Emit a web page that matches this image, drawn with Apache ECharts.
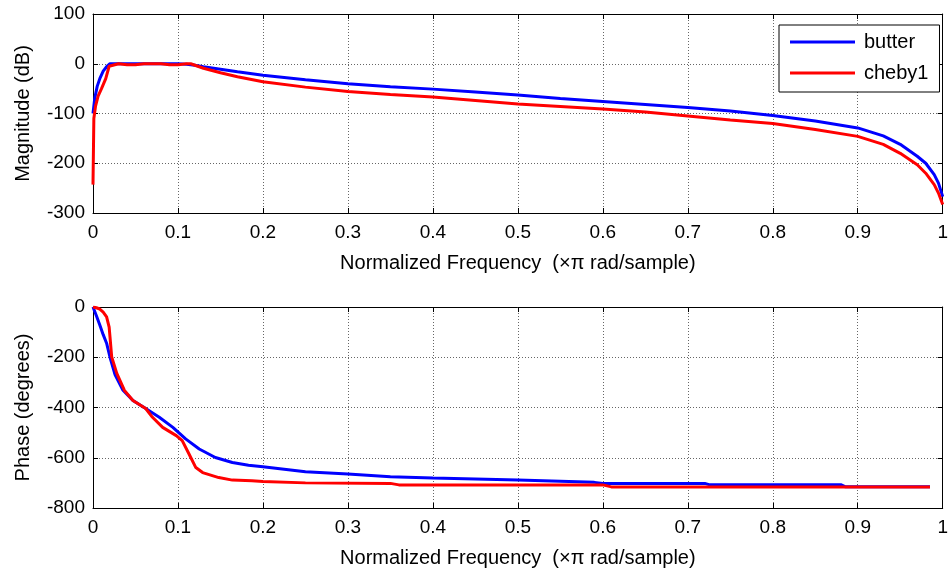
<!DOCTYPE html>
<html>
<head>
<meta charset="utf-8">
<script src="https://cdn.jsdelivr.net/npm/echarts@6/dist/echarts.min.js"></script>
<style>
html,body{margin:0;padding:0;background:#fff;}
#chart{width:951px;height:571px;}
</style>
</head>
<body>
<div id="chart"></div>
<script>
// ---- data ----
const seriesNames = ['butter', 'cheby1'];
const xTicks = [0, 0.1, 0.2, 0.3, 0.4, 0.5, 0.6, 0.7, 0.8, 0.9, 1];
const magTicks = [100, 0, -100, -200, -300];
const phaseTicks = [0, -200, -400, -600, -800];

const butterMagX = [0, 0.002, 0.005, 0.008, 0.012, 0.016, 0.02, 0.05, 0.1, 0.11, 0.12, 0.13, 0.15, 0.17, 0.2, 0.25, 0.3, 0.35, 0.4, 0.45, 0.5, 0.55, 0.6, 0.65, 0.7, 0.75, 0.8, 0.85, 0.9, 0.93, 0.95, 0.97, 0.98, 0.99, 0.995, 1.0];
const butterMag = [-100, -70, -45, -30, -15, -6, 0, 0, 0, -1, -3, -6, -11, -16, -23, -32, -40, -46, -51, -57, -63, -70, -76, -82, -88, -95, -104, -115, -129, -145, -162, -186, -200, -223, -240, -267];

const chebyMagX = [0, 0.001, 0.003, 0.006, 0.01, 0.015, 0.019, 0.02, 0.03, 0.04, 0.05, 0.06, 0.08, 0.09, 0.1, 0.11, 0.115, 0.12, 0.13, 0.15, 0.17, 0.2, 0.25, 0.3, 0.35, 0.4, 0.45, 0.5, 0.55, 0.6, 0.65, 0.7, 0.75, 0.8, 0.85, 0.9, 0.93, 0.95, 0.97, 0.98, 0.99, 0.995, 1.0];
const chebyMag = [-243, -110, -85, -65, -50, -30, -5, -2, 0, -2, -2, 0, 0, -2, -2, 0, 0, -3, -9, -18, -26, -36, -47, -56, -62, -67, -74, -81, -86, -91, -97, -105, -113, -120, -132, -146, -162, -180, -203, -220, -243, -260, -283];

const butterPhaseX = [0, 0.004, 0.008, 0.012, 0.016, 0.02, 0.026, 0.035, 0.047, 0.062, 0.078, 0.094, 0.109, 0.125, 0.144, 0.164, 0.183, 0.2, 0.25, 0.3, 0.35, 0.4, 0.5, 0.59, 0.6, 0.72, 0.725, 0.88, 0.885, 0.985];
const butterPhase = [0, -35, -72, -110, -144, -200, -270, -330, -372, -404, -439, -479, -525, -565, -599, -619, -630, -636, -656, -665, -676, -681, -689, -698, -702, -702, -707, -707, -715, -715];

const chebyPhaseX = [0, 0.004, 0.008, 0.012, 0.016, 0.019, 0.02, 0.022, 0.028, 0.037, 0.047, 0.062, 0.07, 0.082, 0.098, 0.105, 0.113, 0.121, 0.129, 0.148, 0.164, 0.187, 0.2, 0.25, 0.35, 0.36, 0.6, 0.61, 0.985];
const chebyPhase = [0, -3, -8, -20, -39, -80, -119, -199, -264, -332, -372, -404, -439, -479, -512, -532, -585, -639, -659, -679, -689, -692, -695, -700, -702, -708, -708, -716, -716];

const xLabel = 'Normalized Frequency  (\u00d7\u03c0 rad/sample)';
const magLabel = 'Magnitude (dB)';
const phaseLabel = 'Phase (degrees)';

// ---- build ----
const pairs = (xs, ys) => xs.map((x, i) => [x, ys[i]]);
const FONT = 'Liberation Sans, Arial, sans-serif';
const tickStyle = { show: true, inside: true, length: 5, lineStyle: { color: '#000', width: 1 } };
const axisLineStyle = { show: true, onZero: false, lineStyle: { color: '#000', width: 1 } };
const gridLine = { show: true, lineStyle: { color: '#666', type: [1, 2], width: 1 } };
const labelStyle = { color: '#000', fontSize: 19, fontFamily: FONT };
const nameStyle = { color: '#000', fontSize: 20, fontFamily: FONT };

function xMain(gi) {
  return {
    type: 'value', gridIndex: gi, position: 'bottom',
    min: xTicks[0], max: xTicks[xTicks.length - 1], interval: 0.1,
    axisLine: axisLineStyle, axisTick: tickStyle, splitLine: gridLine,
    axisLabel: Object.assign({ margin: 10, formatter: v => String(+v.toFixed(1)) }, labelStyle),
    name: xLabel, nameLocation: 'middle', nameGap: 40, nameTextStyle: nameStyle
  };
}
function xMirror(gi) {
  return {
    type: 'value', gridIndex: gi, position: 'top',
    min: xTicks[0], max: xTicks[xTicks.length - 1], interval: 0.1,
    axisLine: axisLineStyle, axisTick: tickStyle, splitLine: { show: false },
    axisLabel: { show: false }
  };
}
function yMain(gi, ticks, name) {
  const mn = Math.min(...ticks), mx = Math.max(...ticks);
  return {
    type: 'value', gridIndex: gi, position: 'left',
    min: mn, max: mx, interval: Math.abs(ticks[0] - ticks[1]),
    axisLine: axisLineStyle, axisTick: tickStyle, splitLine: gridLine,
    axisLabel: Object.assign({ margin: 8 }, labelStyle),
    name: name, nameLocation: 'middle', nameGap: 60, nameTextStyle: nameStyle
  };
}
function yMirror(gi, ticks) {
  const mn = Math.min(...ticks), mx = Math.max(...ticks);
  return {
    type: 'value', gridIndex: gi, position: 'right',
    min: mn, max: mx, interval: Math.abs(ticks[0] - ticks[1]),
    axisLine: axisLineStyle, axisTick: tickStyle, splitLine: { show: false },
    axisLabel: { show: false }
  };
}
function line(name, color, xi, yi, data) {
  return {
    name: name, type: 'line', xAxisIndex: xi, yAxisIndex: yi, data: data,
    showSymbol: false, symbol: 'none', lineStyle: { color: color, width: 3 }, itemStyle: { color: color },
    smooth: false, animation: false
  };
}

const chart = echarts.init(document.getElementById('chart'), null, { renderer: 'canvas' });
chart.setOption({
  animation: false,
  backgroundColor: '#fff',
  grid: [
    { left: 93, top: 14, width: 857, height: 199, show: false },
    { left: 93, top: 307, width: 857, height: 201, show: false }
  ],
  xAxis: [xMain(0), xMirror(0), xMain(1), xMirror(1)],
  yAxis: [yMain(0, magTicks, magLabel), yMirror(0, magTicks), yMain(1, phaseTicks, phaseLabel), yMirror(1, phaseTicks)],
  legend: {
    data: seriesNames,
    orient: 'vertical', left: 779, top: 25,
    icon: 'rect', itemWidth: 65, itemHeight: 3, itemGap: 11,
    padding: [7, 11, 9, 11],
    borderColor: '#000', borderWidth: 1, backgroundColor: '#fff', borderRadius: 0,
    textStyle: { color: '#000', fontSize: 20, fontFamily: FONT, padding: [0, 0, 0, 4] },
    selectedMode: false
  },
  series: [
    line(seriesNames[0], '#0000ff', 0, 0, pairs(butterMagX, butterMag)),
    line(seriesNames[1], '#ff0000', 0, 0, pairs(chebyMagX, chebyMag)),
    line(seriesNames[0], '#0000ff', 2, 2, pairs(butterPhaseX, butterPhase)),
    line(seriesNames[1], '#ff0000', 2, 2, pairs(chebyPhaseX, chebyPhase))
  ]
});
</script>
</body>
</html>
